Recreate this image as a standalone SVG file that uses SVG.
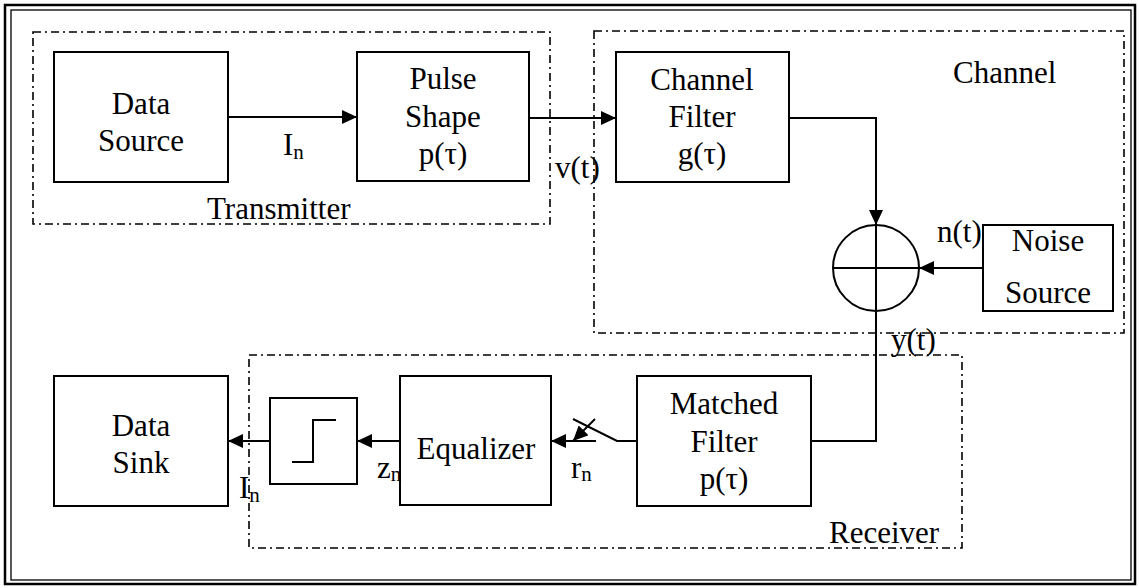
<svg xmlns="http://www.w3.org/2000/svg" width="1139" height="588" viewBox="0 0 1139 588">
<style>
.box{fill:#fff;stroke:#000;stroke-width:2}
.grp{fill:none;stroke:#000;stroke-width:1.6;stroke-dasharray:8 4 2 4}
.ln{fill:none;stroke:#000;stroke-width:2}
.t{font-family:"Liberation Serif","Times New Roman",serif;font-size:31px;fill:#000}
.c{text-anchor:middle}
.sub{font-size:21px}
</style>
<defs>
<marker id="ah" markerUnits="userSpaceOnUse" markerWidth="16" markerHeight="14" refX="15" refY="7" orient="auto">
<path d="M0,0 L15,7 L0,14 z" fill="#000"/>
</marker>
</defs>
<rect width="1139" height="588" fill="#fff"/>
<g id="frame">
<rect x="5" y="5" width="1130" height="579" fill="none" stroke="#000" stroke-width="2.5"/>
<rect x="11" y="10" width="1120" height="570" fill="none" stroke="#000" stroke-width="1.3"/>
</g>
<g id="transmitter">
<rect class="grp" x="33" y="32" width="517" height="192"/>
<text class="t" x="207" y="219">Transmitter</text>
</g>
<g id="channel">
<rect class="grp" x="594" y="31" width="530" height="302"/>
<text class="t" x="953" y="83">Channel</text>
</g>
<g id="receiver">
<rect class="grp" x="249" y="355" width="713" height="193"/>
<text class="t" x="829" y="543">Receiver</text>
</g>
<g id="connectors">
<line class="ln" x1="228" y1="117" x2="357" y2="117" marker-end="url(#ah)"/>
<line class="ln" x1="529" y1="118" x2="616" y2="118" marker-end="url(#ah)"/>
<path class="ln" d="M789,118 H876 V225" marker-end="url(#ah)"/>
<line class="ln" x1="983" y1="268" x2="919" y2="268" marker-end="url(#ah)"/>
<path class="ln" d="M876,312 V441 H811"/>
<path class="ln" d="M637,441 H617 L573,419"/>
<line class="ln" x1="596" y1="441" x2="551" y2="441" marker-end="url(#ah)"/>
<line class="ln" x1="595" y1="419" x2="573" y2="441" marker-end="url(#ah)"/>
<line class="ln" x1="400" y1="441" x2="357" y2="441" marker-end="url(#ah)"/>
<line class="ln" x1="270" y1="441" x2="228" y2="441" marker-end="url(#ah)"/>
</g>
<g id="data-source">
<rect class="box" x="54" y="52" width="174" height="130"/>
<text class="t c" x="141" y="114">Data</text>
<text class="t c" x="141" y="151">Source</text>
</g>
<g id="pulse-shape">
<rect class="box" x="357" y="52" width="172" height="129"/>
<text class="t c" x="443" y="89">Pulse</text>
<text class="t c" x="443" y="127">Shape</text>
<text class="t c" x="443" y="164">p(τ)</text>
</g>
<g id="channel-filter">
<rect class="box" x="616" y="52" width="173" height="130"/>
<text class="t c" x="702" y="90">Channel</text>
<text class="t c" x="702" y="127">Filter</text>
<text class="t c" x="702" y="164">g(τ)</text>
</g>
<g id="summer">
<circle cx="876" cy="268" r="43" fill="#fff" stroke="#000" stroke-width="2"/>
<line class="ln" x1="833" y1="268" x2="919" y2="268"/>
<line class="ln" x1="876" y1="225" x2="876" y2="311"/>
</g>
<g id="noise-source">
<rect class="box" x="983" y="225" width="130" height="86"/>
<text class="t c" x="1048" y="251">Noise</text>
<text class="t c" x="1048" y="303">Source</text>
</g>
<g id="matched-filter">
<rect class="box" x="637" y="376" width="174" height="130"/>
<text class="t c" x="724" y="414">Matched</text>
<text class="t c" x="724" y="452">Filter</text>
<text class="t c" x="724" y="489">p(τ)</text>
</g>
<g id="equalizer">
<rect class="box" x="400" y="376" width="151" height="129"/>
<text class="t c" x="476" y="459">Equalizer</text>
</g>
<g id="threshold">
<rect class="box" x="270" y="398" width="87" height="86"/>
<path class="ln" d="M292,462 H313 V420 H336"/>
</g>
<g id="data-sink">
<rect class="box" x="54" y="376" width="174" height="130"/>
<text class="t c" x="141" y="436">Data</text>
<text class="t c" x="141" y="473">Sink</text>
</g>
<g id="labels">
<text class="t" x="283" y="155">I<tspan class="sub" dy="4">n</tspan></text>
<text class="t" x="555" y="178">v(t)</text>
<text class="t" x="937" y="242">n(t)</text>
<text class="t" x="891" y="350">y(t)</text>
<text class="t" x="571" y="478">r<tspan class="sub" dy="3">n</tspan></text>
<text class="t" x="377" y="478">z<tspan class="sub" dy="3">n</tspan></text>
<text class="t" x="239" y="498">I<tspan class="sub" dy="4">n</tspan></text>
</g>
</svg>
